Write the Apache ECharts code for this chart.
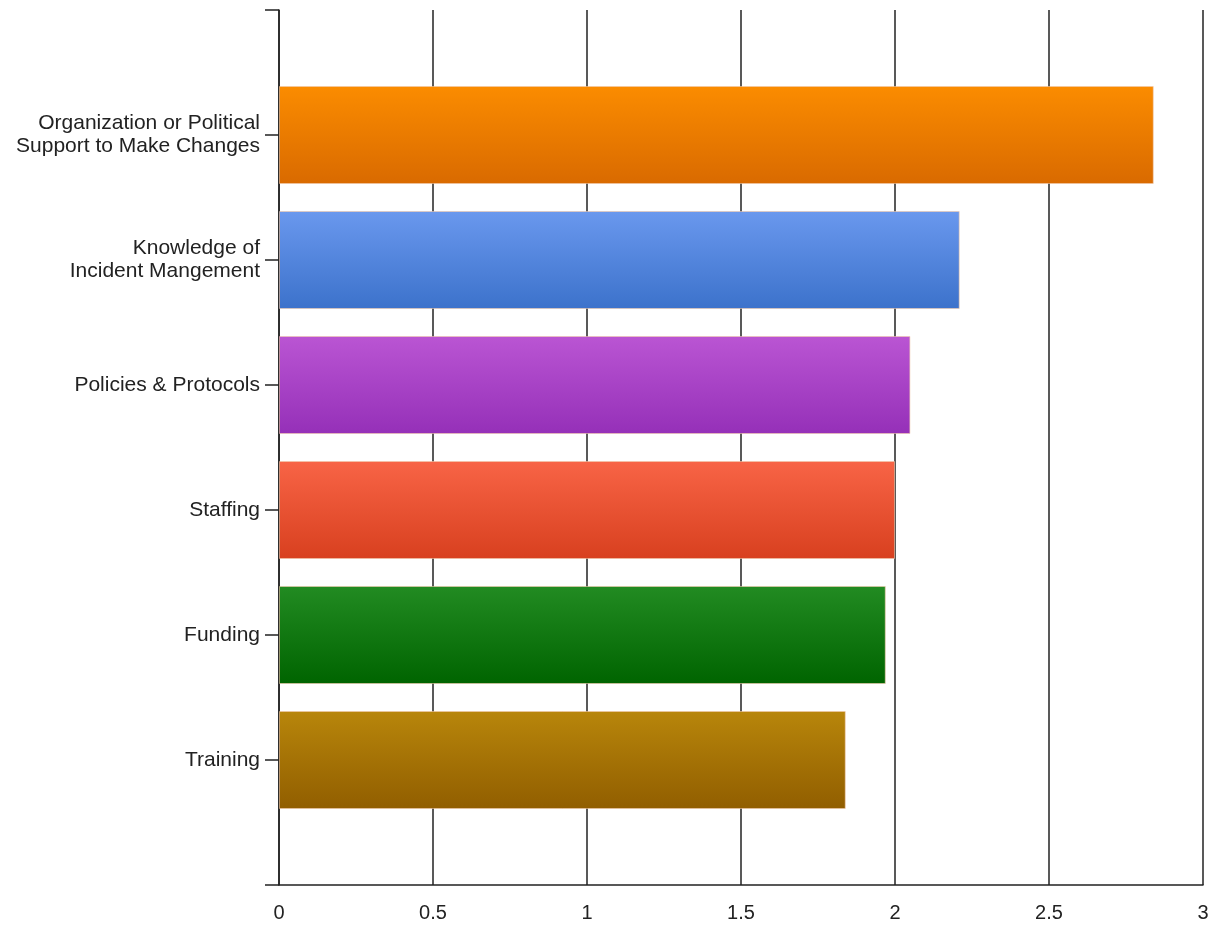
<!DOCTYPE html>
<html>
<head>
<meta charset="utf-8">
<script src="https://cdn.jsdelivr.net/npm/echarts@6/dist/echarts.min.js"></script>
<style>
html,body{margin:0;padding:0;background:#fff;}
#chart{width:1212px;height:925px;}
</style>
</head>
<body>
<div id="chart"></div>
<script>
// Categories listed bottom to top; empty strings pad the axis ends
var categories = ['', 'Training', 'Funding', 'Staffing', 'Policies & Protocols', 'Knowledge of\nIncident Mangement', 'Organization or Political\nSupport to Make Changes', ''];
var values = [null, 1.84, 1.97, 2.0, 2.05, 2.21, 2.84, null];
var topColors = [null, '#B8860B', '#228B22', '#F86446', '#BA55D3', '#6A98EE', '#FB8C00', null];
var bottomColors = [null, '#915E00', '#006400', '#D8401F', '#9530B8', '#3C72CB', '#D96A00', null];
var xTicks = [0, 0.5, 1, 1.5, 2, 2.5, 3];

var data = values.map(function (v, i) {
  if (v === null) return null;
  return {
    value: v,
    itemStyle: {
      color: new echarts.graphic.LinearGradient(0, 0, 0, 1, [
        { offset: 0, color: topColors[i] },
        { offset: 1, color: bottomColors[i] }
      ]),
      borderColor: 'rgba(240,200,170,0.6)',
      borderWidth: 1
    }
  };
});

var chart = echarts.init(document.getElementById('chart'), null, { renderer: 'canvas' });
chart.setOption({
  animation: false,
  backgroundColor: '#ffffff',
  grid: { left: 279, right: 9, top: 10, bottom: 40, containLabel: false },
  xAxis: {
    type: 'value',
    min: xTicks[0],
    max: xTicks[xTicks.length - 1],
    interval: 0.5,
    axisLine: { show: true, lineStyle: { color: '#222', width: 1.5 } },
    axisTick: { show: false },
    axisLabel: {
      color: '#222',
      fontSize: 20,
      fontFamily: 'Liberation Sans, Arial, sans-serif',
      margin: 18,
      formatter: function (v) { return String(v); }
    },
    splitLine: { show: true, lineStyle: { color: '#222', width: 1.5 } }
  },
  yAxis: {
    type: 'category',
    data: categories,
    boundaryGap: false,
    axisLine: { show: true, onZero: false, lineStyle: { color: '#222', width: 1.5 } },
    axisTick: { show: true, length: 14, alignWithLabel: true, lineStyle: { color: '#222', width: 1.5 } },
    axisLabel: {
      color: '#222',
      fontSize: 21,
      fontFamily: 'Liberation Sans, Arial, sans-serif',
      margin: 19,
      align: 'right',
      lineHeight: 23,
      interval: 0
    },
    splitLine: { show: false }
  },
  series: [{
    type: 'bar',
    data: data,
    barWidth: 98,
    z: 3
  }]
});
</script>
</body>
</html>
